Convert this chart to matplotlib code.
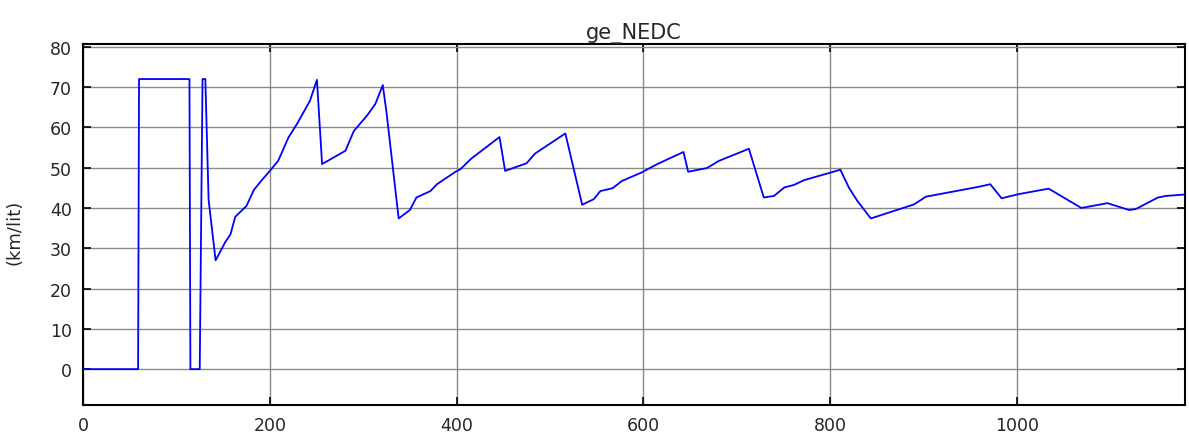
import matplotlib
matplotlib.use("Agg")
import matplotlib.pyplot as plt

# Data (time in s, fuel economy in km/lit)
time_s = [0, 59, 60, 114, 115, 125, 128, 131, 134.5, 142, 152, 158, 163, 175, 183, 190,
          200, 209, 220, 229, 243, 250.5, 256, 281, 290, 304, 313, 321, 325, 338, 350,
          357, 372, 379, 399, 404, 416, 446, 452, 475, 484, 516.5, 534.5, 547, 554,
          567, 577, 598, 615, 643, 648, 668, 681, 713, 729, 740, 751, 761, 772, 800.6,
          811, 820, 829, 843.6, 890, 902.5, 960, 971.5, 983.6, 1001, 1034, 1069, 1097,
          1120, 1127, 1151, 1160, 1183]
ge_kmlit = [0, 0, 72, 72, 0, 0, 72, 72, 42, 27, 31.4, 33.5, 37.8, 40.5, 44.5, 46.5,
            49.2, 51.7, 57.5, 60.8, 66.6, 71.8, 50.9, 54.2, 59.1, 62.9, 65.8, 70.5, 63.7, 37.4, 39.5,
            42.6, 44.2, 45.9, 49.0, 49.6, 52.3, 57.6, 49.2, 51.1, 53.5, 58.5, 40.8, 42.2, 44.2,
            44.9, 46.7, 48.8, 50.9, 53.9, 49.0, 49.9, 51.7, 54.7, 42.6, 43.0, 45.1, 45.7, 46.9, 48.8,
            49.5, 45.1, 41.8, 37.4, 40.9, 42.8, 45.3, 45.9, 42.4, 43.4, 44.8, 40.0, 41.2,
            39.5, 39.7, 42.6, 43.0, 43.4]
x_ticks = [0, 200, 400, 600, 800, 1000]
y_ticks = [0, 10, 20, 30, 40, 50, 60, 70, 80]
title = "ge_NEDC"
ylabel = "(km/lit)"

W, H = 1189, 435
fig = plt.figure(figsize=(W / 100, H / 100), dpi=100)
left, right, top, bottom = 83, 1185, 45, 406
ax = fig.add_axes([left / W, 1 - bottom / H, (right - left) / W, (bottom - top) / H])

ax.plot(time_s, ge_kmlit, color="#0000ff", lw=1.3, zorder=3)

ax.set_xlim(0, 1180)
ax.set_ylim(-8.9, 80.7)
ax.set_xticks(x_ticks)
ax.set_yticks(y_ticks)
ax.grid(True, color="#8a8a8a", lw=1.0, zorder=1)
ax.set_axisbelow(True)

for s in ax.spines.values():
    s.set_linewidth(1.5)
    s.set_color("black")

ax.tick_params(axis="both", direction="in", length=6, width=1.2, color="black",
               top=True, right=True, labelsize=12.5, labelcolor="#262626")
ax.tick_params(axis="x", pad=8)
ax.tick_params(axis="y", pad=8)

ax.set_title(title, fontsize=15, color="#262626", pad=4)
ax.set_ylabel(ylabel, fontsize=13, color="#262626")
ax.yaxis.set_label_coords(-0.054, 0.48)

fig.savefig("out.png", dpi=100)
